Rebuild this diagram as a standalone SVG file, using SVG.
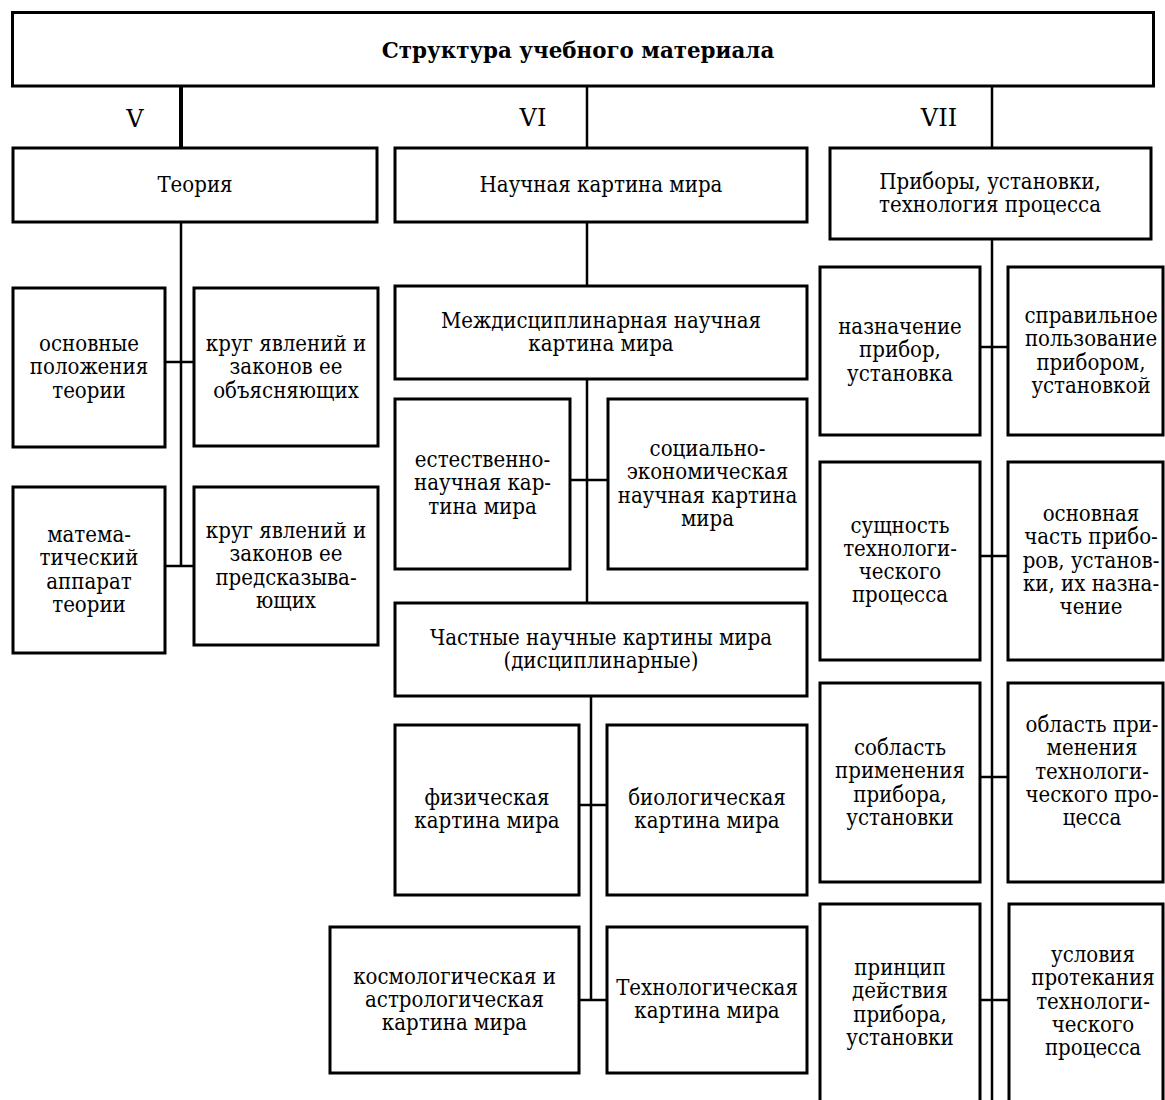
<svg xmlns="http://www.w3.org/2000/svg" width="1165" height="1100" viewBox="0 0 1165 1100">
<style>
.box{fill:#fff;stroke:#000;stroke-width:3}
.ln{stroke:#000;stroke-width:2.5;fill:none}
.t{font-family:"DejaVu Serif","Liberation Serif",serif;font-size:22px;font-stretch:condensed;text-anchor:middle;fill:#000}
.b{font-weight:bold;font-size:21.4px;font-stretch:normal}
.lab{font-family:"DejaVu Serif","Liberation Serif",serif;font-size:24px;text-anchor:middle;fill:#000}
</style>
<rect width="1165" height="1100" fill="#fff"/>
<g id="connectors">
<line class="ln" x1="181" y1="86" x2="181" y2="148" style="stroke-width:4"/>
<line class="ln" x1="587" y1="86" x2="587" y2="148"/>
<line class="ln" x1="992" y1="86" x2="992" y2="148"/>
<line class="ln" x1="181" y1="222" x2="181" y2="566"/>
<line class="ln" x1="165" y1="362" x2="194" y2="362"/>
<line class="ln" x1="165" y1="566" x2="194" y2="566"/>
<line class="ln" x1="587" y1="222" x2="587" y2="286"/>
<line class="ln" x1="587" y1="379" x2="587" y2="603"/>
<line class="ln" x1="570" y1="480" x2="608" y2="480"/>
<line class="ln" x1="591" y1="696" x2="591" y2="1000"/>
<line class="ln" x1="579" y1="805" x2="607" y2="805"/>
<line class="ln" x1="579" y1="1000" x2="607" y2="1000"/>
<line class="ln" x1="992" y1="239" x2="992" y2="1100"/>
<line class="ln" x1="980" y1="347" x2="1008" y2="347"/>
<line class="ln" x1="980" y1="556" x2="1008" y2="556"/>
<line class="ln" x1="980" y1="777" x2="1008" y2="777"/>
<line class="ln" x1="980" y1="1000" x2="1009" y2="1000"/>
</g>
<g id="labels">
<text class="lab" x="135" y="127">V</text>
<text class="lab" x="533" y="126">VI</text>
<text class="lab" x="939" y="126">VII</text>
</g>
<g id="title">
<rect class="box" x="12.5" y="12.5" width="1141" height="73.5"/>
<text class="t b" x="578" y="58">Структура учебного материала</text>
</g>
<g id="theory">
<rect class="box" x="13" y="148" width="364" height="74"/>
<text class="t" x="195" y="192">Теория</text>
</g>
<g id="nkm">
<rect class="box" x="395" y="148" width="412" height="74"/>
<text class="t" x="601" y="192">Научная картина мира</text>
</g>
<g id="pribory">
<rect class="box" x="830" y="148" width="321" height="91"/>
<text class="t" x="990" y="189">Приборы, установки,</text>
<text class="t" x="990" y="212">технология процесса</text>
</g>
<g id="a1">
<rect class="box" x="13" y="288" width="152" height="159"/>
<text class="t" x="89"><tspan x="89" y="351">основные</tspan><tspan x="89" y="374.3">положения</tspan><tspan x="89" y="397.6">теории</tspan></text>
</g>
<g id="a2">
<rect class="box" x="194" y="288" width="184" height="158"/>
<text class="t" x="286"><tspan x="286" y="351">круг явлений и</tspan><tspan x="286" y="374.3">законов ее</tspan><tspan x="286" y="397.6">объясняющих</tspan></text>
</g>
<g id="a3">
<rect class="box" x="13" y="487" width="152" height="166"/>
<text class="t"><tspan x="89" y="542">матема-</tspan><tspan x="89" y="565.3">тический</tspan><tspan x="89" y="588.6">аппарат</tspan><tspan x="89" y="611.9">теории</tspan></text>
</g>
<g id="a4">
<rect class="box" x="194" y="487" width="184" height="158"/>
<text class="t"><tspan x="286" y="538">круг явлений и</tspan><tspan x="286" y="561.3">законов ее</tspan><tspan x="286" y="584.6">предсказыва-</tspan><tspan x="286" y="607.9">ющих</tspan></text>
</g>
<g id="b1">
<rect class="box" x="395" y="286" width="412" height="93"/>
<text class="t"><tspan x="601" y="328">Междисциплинарная научная</tspan><tspan x="601" y="351.3">картина мира</tspan></text>
</g>
<g id="b2">
<rect class="box" x="395" y="399" width="175" height="170"/>
<text class="t"><tspan x="482.5" y="467">естественно-</tspan><tspan x="482.5" y="490.3">научная кар-</tspan><tspan x="482.5" y="513.6">тина мира</tspan></text>
</g>
<g id="b3">
<rect class="box" x="608" y="399" width="199" height="170"/>
<text class="t"><tspan x="707.5" y="456">социально-</tspan><tspan x="707.5" y="479.3">экономическая</tspan><tspan x="707.5" y="502.6">научная картина</tspan><tspan x="707.5" y="525.9">мира</tspan></text>
</g>
<g id="b4">
<rect class="box" x="395" y="603" width="412" height="93"/>
<text class="t"><tspan x="601" y="645">Частные научные картины мира</tspan><tspan x="601" y="668.3">(дисциплинарные)</tspan></text>
</g>
<g id="b5">
<rect class="box" x="395" y="725" width="184" height="170"/>
<text class="t"><tspan x="487" y="805">физическая</tspan><tspan x="487" y="828.3">картина мира</tspan></text>
</g>
<g id="b6">
<rect class="box" x="607" y="725" width="200" height="170"/>
<text class="t"><tspan x="707" y="805">биологическая</tspan><tspan x="707" y="828.3">картина мира</tspan></text>
</g>
<g id="b7">
<rect class="box" x="330" y="927" width="249" height="146"/>
<text class="t"><tspan x="454.5" y="983.5">космологическая и</tspan><tspan x="454.5" y="1006.8">астрологическая</tspan><tspan x="454.5" y="1030.1">картина мира</tspan></text>
</g>
<g id="b8">
<rect class="box" x="607" y="927" width="200" height="146"/>
<text class="t"><tspan x="707" y="995">Технологическая</tspan><tspan x="707" y="1018.3">картина мира</tspan></text>
</g>
<g id="c1">
<rect class="box" x="820" y="267" width="160" height="168"/>
<text class="t"><tspan x="900" y="334">назначение</tspan><tspan x="900" y="357.3">прибор,</tspan><tspan x="900" y="380.6">установка</tspan></text>
</g>
<g id="c2">
<rect class="box" x="1008" y="267" width="155" height="168"/>
<text class="t"><tspan x="1091" y="323">справильное</tspan><tspan x="1091" y="346.3">пользование</tspan><tspan x="1091" y="369.6">прибором,</tspan><tspan x="1091" y="392.9">установкой</tspan></text>
</g>
<g id="c3">
<rect class="box" x="820" y="462" width="160" height="198"/>
<text class="t"><tspan x="900" y="532.5">сущность</tspan><tspan x="900" y="555.8">технологи-</tspan><tspan x="900" y="579.1">ческого</tspan><tspan x="900" y="602.4">процесса</tspan></text>
</g>
<g id="c4">
<rect class="box" x="1008" y="462" width="155" height="198"/>
<text class="t"><tspan x="1091" y="521">основная</tspan><tspan x="1091" y="544.3">часть прибо-</tspan><tspan x="1091" y="567.6">ров, установ-</tspan><tspan x="1091" y="590.9">ки, их назна-</tspan><tspan x="1091" y="614.2">чение</tspan></text>
</g>
<g id="c5">
<rect class="box" x="820" y="683" width="160" height="199"/>
<text class="t"><tspan x="900" y="755">собласть</tspan><tspan x="900" y="778.3">применения</tspan><tspan x="900" y="801.6">прибора,</tspan><tspan x="900" y="824.9">установки</tspan></text>
</g>
<g id="c6">
<rect class="box" x="1008" y="683" width="155" height="199"/>
<text class="t"><tspan x="1092" y="732">область при-</tspan><tspan x="1092" y="755.3">менения</tspan><tspan x="1092" y="778.6">технологи-</tspan><tspan x="1092" y="801.9">ческого про-</tspan><tspan x="1092" y="825.2">цесса</tspan></text>
</g>
<g id="c7">
<rect class="box" x="820" y="904" width="160" height="210"/>
<text class="t"><tspan x="900" y="975">принцип</tspan><tspan x="900" y="998.3">действия</tspan><tspan x="900" y="1021.6">прибора,</tspan><tspan x="900" y="1044.9">установки</tspan></text>
</g>
<g id="c8">
<rect class="box" x="1009" y="904" width="154" height="210"/>
<text class="t"><tspan x="1093" y="962">условия</tspan><tspan x="1093" y="985.3">протекания</tspan><tspan x="1093" y="1008.6">технологи-</tspan><tspan x="1093" y="1031.9">ческого</tspan><tspan x="1093" y="1055.2">процесса</tspan></text>
</g>
</svg>
